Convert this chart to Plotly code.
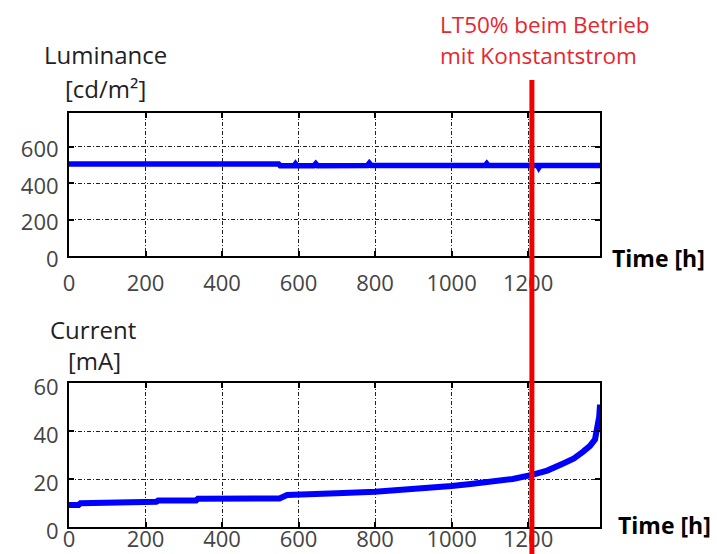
import plotly.graph_objects as go

# Luminance under constant-current operation [cd/m²]
lum_time = [0, 100, 200, 300, 400, 500, 548, 552, 588, 592, 596, 640, 645, 650,
            700, 780, 785, 790, 800, 900, 1000, 1088, 1092, 1096, 1200, 1225,
            1228, 1232, 1300, 1388]
lum_value = [505, 505, 505, 505, 505, 505, 505, 495, 495, 506, 495, 495, 507, 495,
             497, 497, 510, 497, 497, 497, 497, 497, 507, 497, 497, 497,
             485, 497, 497, 497]

# Drive current [mA]
cur_time = [0, 25, 30, 115, 120, 228, 233, 332, 337, 450, 550, 570, 600, 648,
            700, 800, 900, 1000, 1050, 1110, 1160, 1210, 1250, 1292, 1320,
            1344, 1362, 1375, 1382, 1386, 1388]
cur_value = [9.2, 9.2, 9.9, 9.9, 10.5, 10.5, 11.0, 11.0, 11.8, 11.8, 11.9, 13.3,
             13.4, 14.0, 14.1, 14.7, 15.7, 17.1, 17.9, 18.9, 20.0, 21.7, 23.5,
             26.5, 28.6, 31.4, 33.8, 36.5, 42.0, 46.0, 51.0]

lt50_time = 1210

x_ticks = [0, 200, 400, 600, 800, 1000, 1200]
lum_ticks = [0, 200, 400, 600]
cur_ticks = [0, 20, 40, 60]

W, H = 717, 554
FONT = "Open Sans"
TICK_COLOR = "#444444"


def px(x):
    return x / W


def py(y):
    return 1 - y / H


fig = go.Figure()
fig.add_trace(go.Scatter(x=lum_time, y=lum_value, mode="lines",
                         line=dict(color="#0000ff", width=5.5),
                         xaxis="x", yaxis="y", showlegend=False))
fig.add_trace(go.Scatter(x=cur_time, y=cur_value, mode="lines",
                         line=dict(color="#0000ff", width=6),
                         xaxis="x2", yaxis="y2", showlegend=False))

common_axis = dict(
    showline=True, linecolor="black", linewidth=2, mirror="allticks",
    ticks="inside", ticklen=5, tickcolor="black", tickwidth=1.5,
    showgrid=True, gridcolor="#222222", gridwidth=1, griddash="4px,2px,1px,2px",
    zeroline=False, automargin=False,
    tickfont=dict(family=FONT, size=22, color=TICK_COLOR),
)

x_dom = [px(69), px(600)]
fig.update_layout(
    width=W, height=H,
    margin=dict(l=0, r=0, t=0, b=0, autoexpand=False),
    paper_bgcolor="white", plot_bgcolor="white",
    xaxis=dict(domain=x_dom, anchor="y", range=[0, 1388], tickvals=x_ticks,
               ticklabelstandoff=7, **common_axis),
    yaxis=dict(domain=[py(256), py(113)], anchor="x", range=[0, 785],
               tickvals=lum_ticks, ticklabelstandoff=4, ticklabelshift=3,
               **common_axis),
    xaxis2=dict(domain=x_dom, anchor="y2", range=[0, 1388], tickvals=x_ticks,
                ticklabelstandoff=-8, **common_axis),
    yaxis2=dict(domain=[py(527), py(383)], anchor="x2", range=[0, 60],
                tickvals=cur_ticks, ticklabelstandoff=4, ticklabelshift=4,
                **common_axis),
)

# LT50 marker across both panels
fig.add_shape(type="line", xref="x", yref="paper",
              x0=lt50_time, x1=lt50_time, y0=0, y1=py(80),
              line=dict(color="#f00000", width=5), layer="above")

label_font = dict(family=FONT, size=24, color="#222222")
bold_font = dict(family=FONT, size=23, color="black")
red_font = dict(family=FONT, size=22.5, color="#e8262e")


def text(s, x, y, font, xanchor="left"):
    fig.add_annotation(text=s, x=px(x), y=py(y), xref="paper", yref="paper",
                       showarrow=False, xanchor=xanchor, yanchor="middle",
                       font=font)


text("Luminance", 42, 55, label_font)
text("[cd/m²]", 63, 88, label_font)
text("Current", 48, 329, label_font)
text("[mA]", 66, 360, label_font)
text("<b>Time [h]</b>", 610, 258, bold_font)
text("<b>Time [h]</b>", 616, 525, bold_font)
text("LT50% beim Betrieb", 438, 25, red_font)
text("mit Konstantstrom", 438, 56, red_font)

fig.write_html("out.html")
